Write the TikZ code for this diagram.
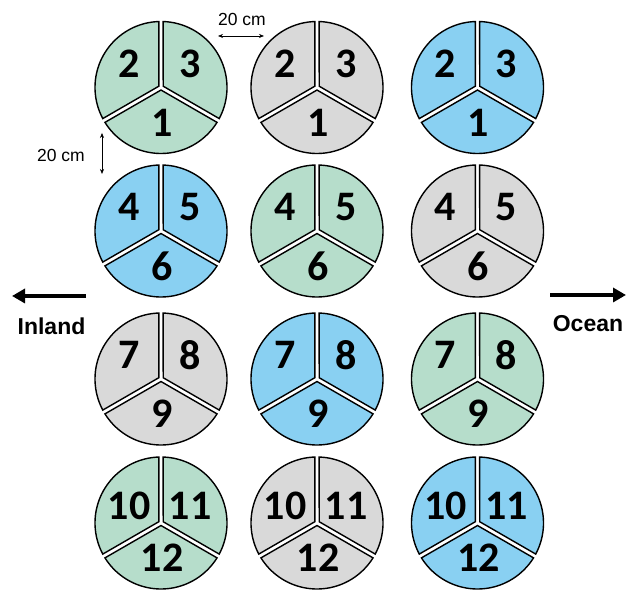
\documentclass[tikz,border=0pt]{standalone}
\usepackage{fontspec}
\setmainfont{Liberation Sans}
\newfontfamily\numfont{Carlito}
\usepackage{xcolor}
\usetikzlibrary{arrows.meta,positioning}
\definecolor{plotgreen}{RGB}{182,221,203}
\definecolor{plotgray}{RGB}{217,217,217}
\definecolor{plotblue}{RGB}{137,208,242}
\tikzset{
  sector/.style={draw=black,line width=1.4pt,line join=miter},
  num/.style={font=\numfont\bfseries\fontsize{42}{42}\selectfont,inner sep=0pt},
  gaplbl/.style={font=\fontsize{17.5}{17.5}\selectfont,inner sep=0pt},
  dirlbl/.style={font=\bfseries\fontsize{23}{23}\selectfont,inner sep=0pt},
  dirarrow/.style={-{Triangle[length=13pt,width=14pt]},line width=4.5pt},
  gaparrow/.style={{Stealth[length=5pt,width=4pt]}-{Stealth[length=5pt,width=4pt]},line width=.6pt}
}

\begin{document}
\begin{tikzpicture}[x=1pt,y=1pt]
  \useasboundingbox (0,0) rectangle (635,593);
  % plots: column x / row y / colour / labels / label height
  \foreach \cx/\cy/\col/\tl/\tr/\bt/\dy [count=\i] in {
      161/505.5/plotgreen/2/3/1/24, 317/505.5/plotgray/2/3/1/24, 477.5/505.5/plotblue/2/3/1/24,
      161/362/plotblue/4/5/6/24, 317/362/plotgreen/4/5/6/24, 477.5/362/plotgray/4/5/6/24,
      161/214/plotgray/7/8/9/24, 317/214/plotblue/7/8/9/24, 477.5/214/plotgreen/7/8/9/24,
      161/70/plotgreen/10/11/12/17.5, 317/70/plotgray/10/11/12/17.5, 477.5/70/plotblue/10/11/12/17.5}
  {
    \begin{scope}[shift={(\cx,\cy)}]
      \filldraw[fill=\col,sector] (150:2.54) -- (91.9:66) arc[start angle=91.9,end angle=208.1,radius=66] -- cycle;
      \filldraw[fill=\col,sector] (30:2.54) -- (-28.1:66) arc[start angle=-28.1,end angle=88.1,radius=66] -- cycle;
      \filldraw[fill=\col,sector] (270:2.54) -- (211.9:66) arc[start angle=211.9,end angle=328.1,radius=66] -- cycle;
      \node[num] (tl\i) at (-32,\dy) {\tl};
      \node[num] (tr\i) at (29,\dy) {\tr};
      \node[num] (bt\i) at (1,-35) {\bt};
    \end{scope}
  }
  % spacing marks
  \coordinate (hl) at (218,557);
  \coordinate (hr) at (264,557);
  \draw[gaparrow] (hl) -- (hr);
  \node[gaplbl] (hgap) at (242,574) {20 cm};
  \coordinate (vt) at (102,460);
  \coordinate (vb) at (102,419);
  \draw[gaparrow] (vt) -- (vb);
  \node[gaplbl] (vgap) at (61,438) {20 cm};
  % directions
  \coordinate (inA) at (86,297);
  \coordinate (inB) at (12,297);
  \draw[dirarrow] (inA) -- (inB);
  \node[dirlbl] (inland) at (51.5,267) {Inland};
  \coordinate (ocA) at (550,298);
  \coordinate (ocB) at (626,298);
  \draw[dirarrow] (ocA) -- (ocB);
  \node[dirlbl] (ocean) at (588,269) {Ocean};
\end{tikzpicture}
\end{document}
